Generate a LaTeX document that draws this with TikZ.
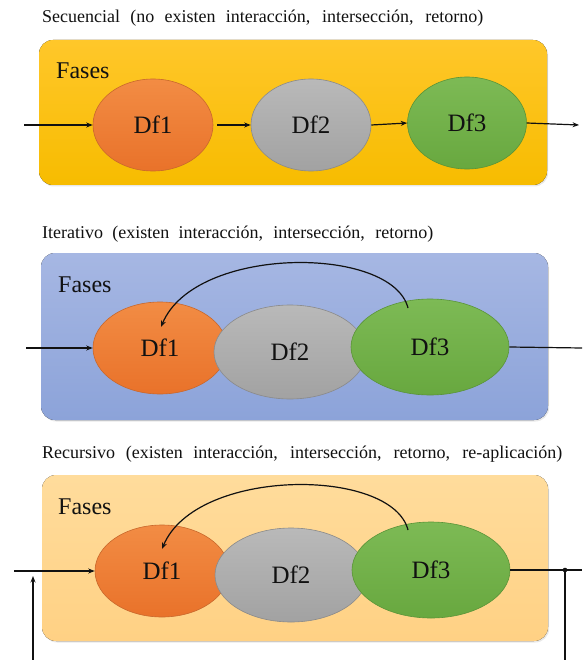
\documentclass[tikz,border=0pt]{standalone}
\usepackage{fontspec}
\setmainfont{Liberation Serif}
\newfontfamily\labelserif{Liberation Serif}
\usetikzlibrary{shapes.geometric,arrows.meta,shadows}

\definecolor{goldA}{HTML}{FFC72A}
\definecolor{goldB}{HTML}{F7BC00}
\definecolor{blueA}{HTML}{A6B7E3}
\definecolor{blueB}{HTML}{8CA3D9}
\definecolor{peachA}{HTML}{FFDC9C}
\definecolor{peachB}{HTML}{FFD184}
\definecolor{orA}{HTML}{F28C44}
\definecolor{orB}{HTML}{E9722A}
\definecolor{orD}{HTML}{C9682C}
\definecolor{grA}{HTML}{B9B9B9}
\definecolor{grB}{HTML}{A2A2A2}
\definecolor{grD}{HTML}{8A8A8A}
\definecolor{gnA}{HTML}{7DBA55}
\definecolor{gnB}{HTML}{68A83F}
\definecolor{gnD}{HTML}{5A9438}
\definecolor{ink}{HTML}{111111}

\begin{document}
\begin{tikzpicture}[x=1pt,y=-1pt,
  title/.style={anchor=base west, inner sep=0pt, text=ink,
    font=\labelserif\fontsize{18}{20}\selectfont},
  phasebox/.style={rounded corners=14pt,
    drop shadow={shadow xshift=1.2pt, shadow yshift=-1.5pt, opacity=0.18}},
  faselabel/.style={anchor=base west, inner sep=0pt, text=ink,
    font=\labelserif\fontsize{24}{26}\selectfont},
  df/.style={ellipse, inner sep=0pt, text=ink, line width=0.6pt,
    font=\labelserif\fontsize{25}{27}\selectfont},
  dfone/.style={df, top color=orA, bottom color=orB, draw=orD},
  dftwo/.style={df, top color=grA, bottom color=grB, draw=grD},
  dfthree/.style={df, top color=gnA, bottom color=gnB, draw=gnD},
  flow/.style={line width=1.2pt, draw=ink},
  arr/.style={flow, -{Stealth[length=6.5pt,width=5pt]}}
]
\useasboundingbox (0,0) rectangle (582,660);
\fill[white] (0,0) rectangle (582,660);

% ---------- Secuencial ----------
\node[title] (t1) at (42,23)
  {\makebox[441pt][s]{Secuencial (no existen interacción, intersección, retorno)}};
\fill[phasebox, top color=goldA, bottom color=goldB] (39,40) rectangle (547,185);
\node[faselabel] (f1) at (56,79) {Fases};
\node[dfone,   minimum width=120pt, minimum height=92pt] (a1) at (153,125) {Df1};
\node[dftwo,   minimum width=120pt, minimum height=92pt] (a2) at (311,125) {Df2};
\node[dfthree, minimum width=119pt, minimum height=92pt] (a3) at (467,123) {Df3};
\coordinate (a0) at (24,125);
\coordinate (a4) at (579,125);
\draw[arr] (a0) -- (a1.west);
\draw[arr] ([xshift=4pt]a1.east) -- (a2.west);
\draw[arr] (a2.east) -- (a3.west);
\draw[arr] (a3.east) -- (a4);

% ---------- Iterativo ----------
\node[title] (t2) at (42,238)
  {\makebox[391pt][s]{Iterativo (existen interacción, intersección, retorno)}};
\fill[phasebox, top color=blueA, bottom color=blueB] (41,253) rectangle (548,420);
\node[faselabel] (f2) at (58,292) {Fases};
\node[dfone,   minimum width=134pt, minimum height=92pt] (b1) at (160,348) {Df1};
\node[dftwo,   minimum width=152pt, minimum height=94pt] (b2) at (290,352) {Df2};
\node[dfthree, minimum width=158pt, minimum height=96pt] (b3) at (430,347) {Df3};
\coordinate (b0) at (26,348);
\coordinate (b4) at (582,348);
\coordinate (bs) at (408,308);
\coordinate (be) at (161,327);
\draw[arr] (b0) -- (b1.west);
\draw[flow] (b3.east) -- (b4);
\draw[arr] (bs) .. controls (392,245) and (195,245) .. (be);

% ---------- Recursivo ----------
\node[title] (t3) at (42,458)
  {\makebox[520pt][s]{Recursivo (existen interacción, intersección, retorno, re-aplicación)}};
\fill[phasebox, top color=peachA, bottom color=peachB] (42,475) rectangle (548,641);
\node[faselabel] (f3) at (58,514) {Fases};
\node[dfone,   minimum width=134pt, minimum height=92pt] (c1) at (162,571) {Df1};
\node[dftwo,   minimum width=152pt, minimum height=94pt] (c2) at (291,575) {Df2};
\node[dfthree, minimum width=158pt, minimum height=96pt] (c3) at (431,570) {Df3};
\coordinate (c0) at (14,571);
\coordinate (cin) at (33,660);
\coordinate (cup) at (33,576);
\coordinate (cj) at (565,570);
\coordinate (c4) at (582,570);
\coordinate (cdown) at (565,660);
\coordinate (cs) at (408,530);
\coordinate (ce) at (162,549);
\draw[arr] (c0) -- (c1.west);
\draw[arr] (cin) -- (cup);
\draw[flow] (c3.east) -- (c4);
\draw[flow] (cj) -- (cdown);
\fill[ink] (cj) circle (2.3pt);
\draw[arr] (cs) .. controls (392,467) and (196,467) .. (ce);
\end{tikzpicture}
\end{document}
